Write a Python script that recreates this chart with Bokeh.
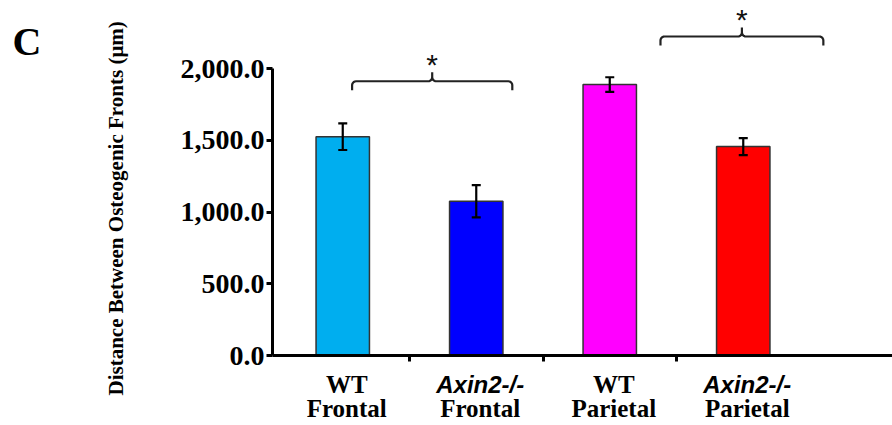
import numpy as np
from bokeh.plotting import figure
from bokeh.models import Range1d, FixedTicker, NumeralTickFormatter, ColumnDataSource
from bokeh.core.properties import value
from bokeh.embed import file_html
from bokeh.resources import INLINE

# ---- data ----
line1 = ["WT", "Axin2-/-", "WT", "Axin2-/-"]
line2 = ["Frontal", "Frontal", "Parietal", "Parietal"]
means = [1525, 1075, 1888, 1456]
errors = [93, 112, 51, 59]
colors = ["#00AEEF", "#0000FF", "#FF00FF", "#FF0000"]
y_ticks = [0, 500, 1000, 1500, 2000]
y_title = "Distance Between Osteogenic Fronts (\u03bcm)"
panel_letter = "C"
brace_spans = [(0.57, 1.77), (2.88, 4.10)]   # category units
brace_levels = [1911, 2223]
brace_marks = ["*", "*"]

# ---- layout (page pixels) ----
W, H = 892, 425
AX_LEFT, AX_BOTTOM = 272, 355      # where the axes cross
CAT_PX = 133.5                      # pixels per category
Y_PX = 287.0 / 2000.0               # pixels per value unit
cat0 = -3.5 / CAT_PX                # x value at the y axis
kx = 1.0 / CAT_PX
ky = 1.0 / Y_PX

def X(px):
    return cat0 + (px - AX_LEFT) * kx

def Y(py):
    return (AX_BOTTOM - py) * ky

SERIF = "Liberation Serif"
SANS = "Liberation Sans"

p = figure(width=W, height=H, output_backend="svg", toolbar_location=None,
           x_range=Range1d(X(0), X(W)), y_range=Range1d(Y(H), Y(0)),
           min_border_left=0, min_border_right=0, min_border_top=0, min_border_bottom=0)
p.outline_line_color = None
p.grid.visible = False

xs = [i + 0.5 for i in range(len(means))]
upper = [m + e for m, e in zip(means, errors)]
lower = [m - e for m, e in zip(means, errors)]
src = ColumnDataSource(dict(x=xs, top=means, color=colors, upper=upper, lower=lower))
p.vbar(x="x", top="top", width=0.4, bottom=0, fill_color="color",
       line_color="#333333", line_width=1.5, source=src)

# error bars
cap = 4.5 * kx
p.segment(x0="x", y0="lower", x1="x", y1="upper", source=src, line_color="black", line_width=2.2)
p.segment(x0=[x - cap for x in xs] * 2, y0=upper + lower,
          x1=[x + cap for x in xs] * 2, y1=upper + lower, line_color="black", line_width=2.2)

# y axis, drawn at the left edge of the categories
ya = p.yaxis[0]
ya.fixed_location = cat0
ya.ticker = FixedTicker(ticks=y_ticks)
ya.formatter = NumeralTickFormatter(format="0,0.0")
ya.bounds = (0, 2000)
ya.axis_line_width = 3
ya.major_tick_line_width = 3
ya.major_tick_out = 6
ya.major_tick_in = 0
ya.minor_tick_line_color = None
ya.major_label_standoff = 2
ya.major_label_text_font = SERIF
ya.major_label_text_font_style = "bold"
ya.major_label_text_font_size = "28px"
ya.major_label_text_color = "black"

# x axis at value 0
xa = p.xaxis[0]
xa.fixed_location = 0
xa.ticker = FixedTicker(ticks=list(range(1, len(means))))
xa.major_label_overrides = {i: "" for i in range(1, len(means))}
xa.bounds = (cat0, X(W))
xa.axis_line_width = 3
xa.major_tick_line_width = 3
xa.major_tick_out = 6
xa.major_tick_in = 0
xa.minor_tick_line_color = None

# braces
def brace(xa_, xb_, level):
    r, tip, peak = 4.0, 9.0, 9.0
    xm = (xa_ + xb_) / 2.0
    XA, XB = (xa_ - xm) / kx, (xb_ - xm) / kx
    pts = [(XA, -tip), (XA, -r)]
    t = np.linspace(np.pi, np.pi / 2, 6)
    pts += [(XA + r + r * np.cos(a), -r + r * np.sin(a)) for a in t]
    t = np.linspace(-np.pi / 2, 0, 6)
    pts += [(-r + r * np.cos(a), r + r * np.sin(a)) for a in t]
    pts += [(0, peak)]
    t = np.linspace(np.pi, 3 * np.pi / 2, 6)
    pts += [(r + r * np.cos(a), r + r * np.sin(a)) for a in t]
    t = np.linspace(np.pi / 2, 0, 6)
    pts += [(XB - r + r * np.cos(a), -r + r * np.sin(a)) for a in t]
    pts += [(XB, -tip)]
    bx = [xm + px * kx for px, _ in pts]
    by = [level + py * ky for _, py in pts]
    return bx, by, xm

star_x, star_y = [], []
for (a, b), lv in zip(brace_spans, brace_levels):
    bx, by, xm = brace(a, b, lv)
    p.line(bx, by, line_color="#222222", line_width=2.2)
    star_x.append(xm)
    star_y.append(lv + 17 * ky)

p.text(x=star_x, y=star_y, text=brace_marks, text_align="center", text_baseline="alphabetic",
       text_font=value(SANS), text_font_size="30px", text_color="#111111")

# category labels
lx = [x + 4 * kx for x in xs]
wt_i = [i for i, s in enumerate(line1) if not s.startswith("Axin")]
ax_i = [i for i, s in enumerate(line1) if s.startswith("Axin")]
p.text(x=[lx[i] for i in wt_i], y=[Y(384)] * len(wt_i), text=[line1[i] for i in wt_i],
       text_align="center", text_baseline="alphabetic", text_font=value(SERIF),
       text_font_style="bold", text_font_size="25px", text_color="black")
p.text(x=[lx[i] for i in ax_i], y=[Y(384)] * len(ax_i), text=[line1[i] for i in ax_i],
       text_align="center", text_baseline="alphabetic", text_font=value(SANS),
       text_font_style="bold italic", text_font_size="24px", text_color="black")
p.text(x=lx, y=[Y(408)] * len(lx), text=line2,
       text_align="center", text_baseline="alphabetic", text_font=value(SERIF),
       text_font_style="bold", text_font_size="25px", text_color="black")

# panel letter and y title
p.text(x=[X(12)], y=[Y(41)], text=[panel_letter], text_align="left",
       text_baseline="alphabetic", text_font=value(SERIF), text_font_style="bold",
       text_font_size="40px", text_color="black")
p.text(x=[X(115)], y=[Y(395)], text=[y_title], angle=np.pi / 2, text_align="left",
       text_baseline="middle", text_font=value(SERIF), text_font_style="bold",
       text_font_size="21px", text_color="black")

open("out.html", "w").write(file_html(p, INLINE))
